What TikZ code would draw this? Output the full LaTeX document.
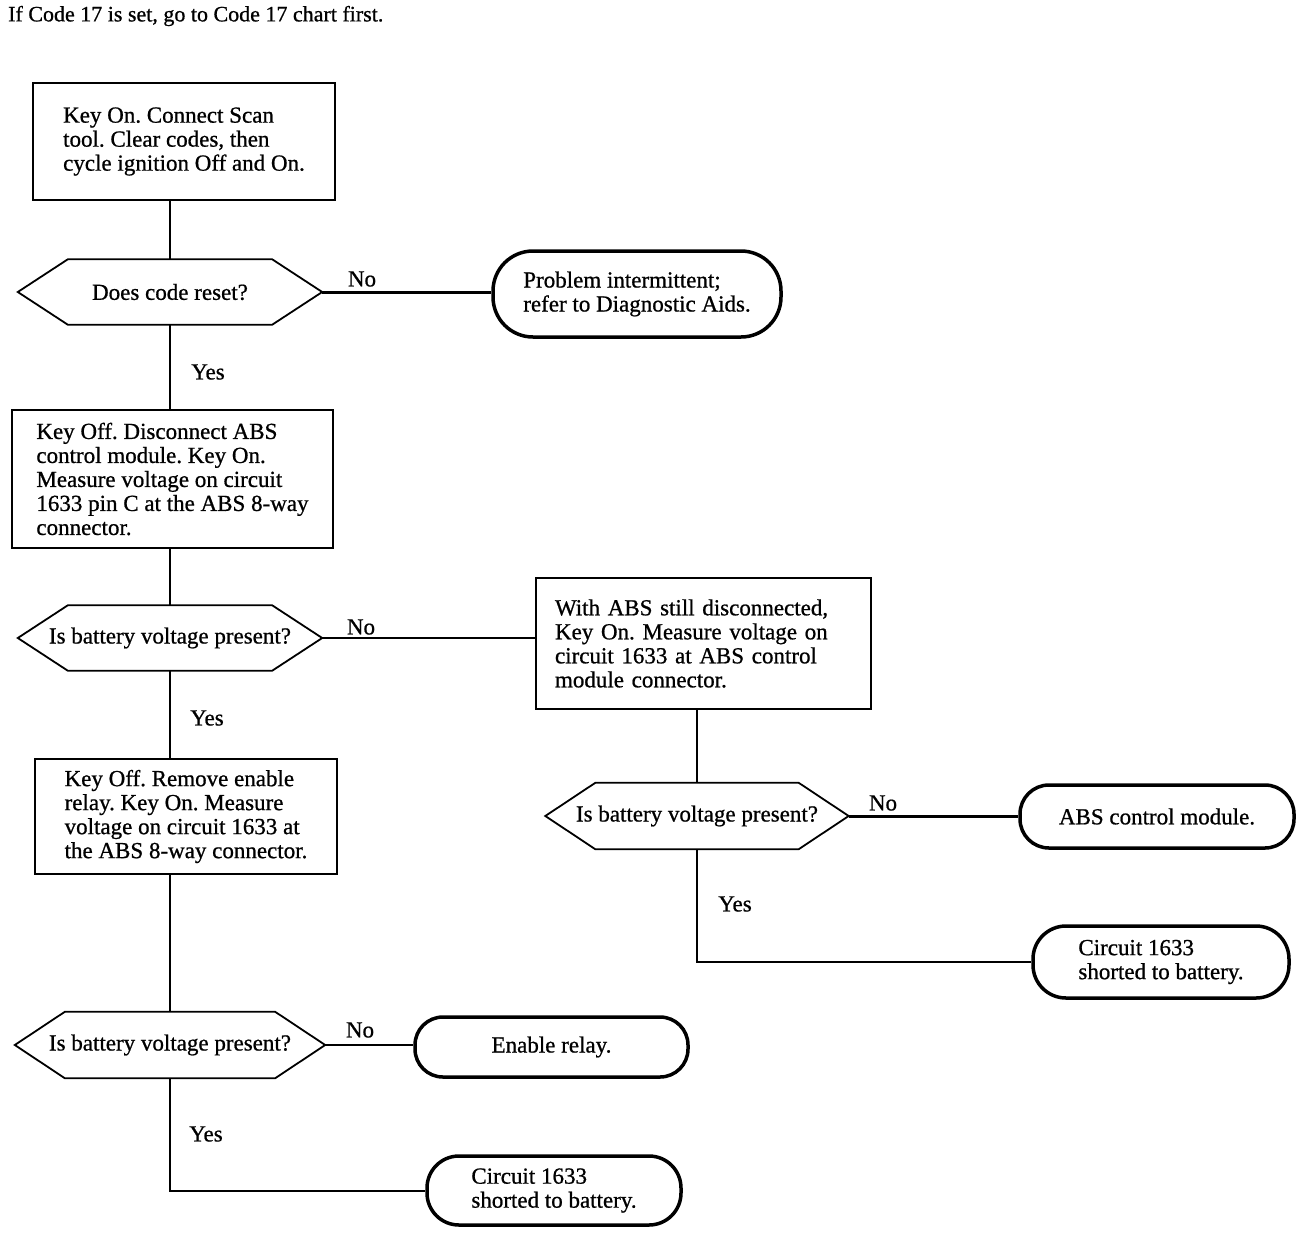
\documentclass[tikz,border=0pt]{standalone}
\usepackage{fontspec}
\setmainfont[FakeBold=0.8]{Liberation Serif}
\frenchspacing
\tikzset{
  every node/.style={font=\fontsize{23}{24}\selectfont},
  box/.style={draw, line width=2pt, align=left, inner sep=0pt},
  term/.style={draw, line width=3.5pt, align=left, inner sep=0pt},
  hex/.style={align=center, inner sep=0pt},
  conn/.style={line width=2pt},
  thickconn/.style={line width=3pt},
  lbl/.style={inner sep=0pt},
}
\newcommand\hexshape[1]{\draw[line width=1.8pt] ([xshift=50pt]#1.north west) -- ([xshift=-50pt]#1.north east) -- (#1.east) -- ([xshift=-50pt]#1.south east) -- ([xshift=50pt]#1.south west) -- (#1.west) -- cycle;}
\begin{document}
\frenchspacing
\begin{tikzpicture}[x=1pt,y=-1pt]
\useasboundingbox (0,0) rectangle (1312,1232);

\node[lbl, anchor=west, font=\fontsize{22}{24}\selectfont] (title) at (8,16) {If Code 17 is set, go to Code 17 chart first.};

% left column
\node[box, minimum width=302pt, minimum height=117pt] (b1) at (184,141.5)
  {Key On. Connect Scan\\tool. Clear codes, then\\cycle ignition Off and On.};
\node[hex, minimum width=304pt, minimum height=65pt] (d1) at (170,292) {Does code reset?};
\hexshape{d1}
\node[term, rounded corners=40pt, minimum width=288pt, minimum height=86pt] (t1) at (637,294)
  {Problem intermittent;\\refer to Diagnostic Aids.};

\node[box, minimum width=321pt, minimum height=138pt] (b2) at (172.5,479)
  {Key Off. Disconnect ABS\\control module. Key On.\\Measure voltage on circuit\\1633 pin C at the ABS 8-way\\connector.};
\node[hex, minimum width=304pt, minimum height=65pt] (d2) at (170,638) {Is battery voltage present?};
\hexshape{d2}

\node[box, text width=297pt, minimum width=335pt, minimum height=131pt] (b3) at (703.5,643.5)
  {With ABS still disconnected,\\Key On. Measure voltage on\\circuit 1633 at ABS control\\module connector.};
\node[hex, minimum width=303pt, minimum height=66pt] (d3) at (697,816) {Is battery voltage present?};
\hexshape{d3}
\node[term, rounded corners=29pt, minimum width=274pt, minimum height=63pt] (t3) at (1157,816.5)
  {ABS control module.};
\node[term, rounded corners=33pt, minimum width=256pt, minimum height=72pt] (t4) at (1161,962)
  {Circuit 1633\\shorted to battery.};

\node[box, minimum width=302pt, minimum height=115pt] (b4) at (186,816.5)
  {Key Off. Remove enable\\relay. Key On. Measure\\voltage on circuit 1633 at\\the ABS 8-way connector.};
\node[hex, minimum width=310pt, minimum height=66pt] (d4) at (170,1045) {Is battery voltage present?};
\hexshape{d4}
\node[term, rounded corners=28pt, minimum width=273pt, minimum height=60pt] (t5) at (551.5,1047)
  {Enable relay.};
\node[term, rounded corners=32pt, minimum width=254pt, minimum height=69pt] (t6) at (554,1190.5)
  {Circuit 1633\\shorted to battery.};

% labels
\node[lbl] (no1) at (362,279) {No};
\node[lbl] (no2) at (361,627) {No};
\node[lbl] (no3) at (883,803) {No};
\node[lbl] (no4) at (360,1030) {No};
\node[lbl] (yes1) at (208,372) {Yes};
\node[lbl] (yes2) at (207,718) {Yes};
\node[lbl] (yes3) at (735,904) {Yes};
\node[lbl] (yes4) at (206,1134) {Yes};

% connectors
\draw[conn] (d1.north |- b1.south) -- (d1.north);
\draw[thickconn] (d1.east) -- (d1.east -| t1.west);
\draw[conn] (d1.south) -- (d1.south |- b2.north);
\draw[conn] (d2.north |- b2.south) -- (d2.north);
\draw[conn] (d2.east) -- (d2.east -| b3.west);
\draw[conn] (d2.south) -- (d2.south |- b4.north);
\draw[conn] (d4.north |- b4.south) -- (d4.north);
\draw[conn] (d3.north |- b3.south) -- (d3.north);
\draw[thickconn] (d3.east) -- (d3.east -| t3.west);
\draw[conn] (d3.south) |- (t4.west);
\draw[conn] (d4.east) -- (d4.east -| t5.west);
\draw[conn] (d4.south) |- (t6.west);
\end{tikzpicture}
\end{document}
